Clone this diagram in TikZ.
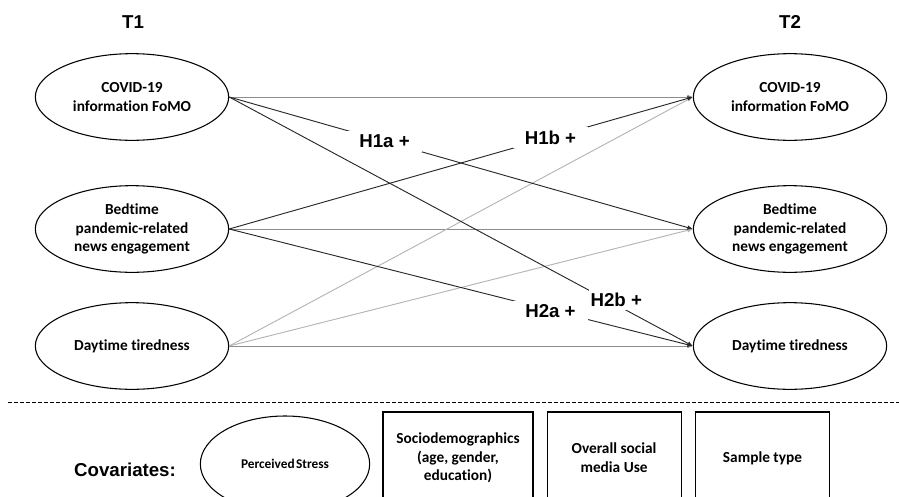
\documentclass[tikz,border=0pt]{standalone}
\usepackage{fontspec}
\setmainfont{Carlito}[Ligatures=NoCommon]
\newfontfamily\headfont{Liberation Sans}
\usepackage{tikz}
\usetikzlibrary{arrows.meta, positioning, shapes.geometric}
\definecolor{darkline}{RGB}{40,40,40}
\definecolor{midgray}{RGB}{140,140,140}
\definecolor{lightgray}{RGB}{180,180,180}
\newcommand{\head}[1]{{\headfont\bfseries #1}}

\begin{document}
\begin{tikzpicture}[x=0.75pt, y=-0.75pt, font=\fontsize{11.5}{14}\selectfont\bfseries,
  var/.style={draw, ellipse, line width=0.8pt, minimum width=145pt, minimum height=65pt, align=center},
  covbox/.style={draw, line width=0.8pt, minimum height=69pt, align=center},
  hyp/.style={fill=white, text=black, inner xsep=9pt, inner ysep=3pt, font=\fontsize{14}{16}\selectfont},
  link/.style={-{Latex[length=4pt, width=3.5pt]}, line width=0.7pt}]
\useasboundingbox (0,0) rectangle (899,496);

% time points
\node (t1) at (133,22) {\fontsize{14}{16}\selectfont\head{T1}};
\node (t2) at (790,22) {\fontsize{14}{16}\selectfont\head{T2}};

% T1 variables
\node[var] (fomoA) at (132,97) {COVID-19\\information FoMO};
\node[var] (newsA) at (132,229) {Bedtime\\pandemic-related\\news engagement};
\node[var] (tiredA) at (132,346) {Daytime tiredness};

% T2 variables
\node[var] (fomoB) at (790,97) {COVID-19\\information FoMO};
\node[var] (newsB) at (790,229) {Bedtime\\pandemic-related\\news engagement};
\node[var] (tiredB) at (790,346) {Daytime tiredness};

% stability and control paths
\draw[link, midgray] (fomoA.east) -- (fomoB.west);
\draw[link, midgray] (newsA.east) -- (newsB.west);
\draw[link, midgray] (tiredA.east) -- (tiredB.west);
\draw[link, lightgray] (tiredA.east) -- (fomoB.west);
\draw[link, lightgray] (tiredA.east) -- (newsB.west);

% hypotheses
\draw[link, darkline] (fomoA.east) -- node[hyp, pos=0.335] {\head{H1a +}} (newsB.west);
\draw[link, darkline] (newsA.east) -- node[hyp, pos=0.693] {\head{H1b +}} (fomoB.west);
\draw[link, darkline] (newsA.east) -- node[hyp, pos=0.693, yshift=-1pt] {\head{H2a +}} (tiredB.west);
\draw[link, darkline] (fomoA.east) -- node[hyp, pos=0.835, inner xsep=1pt, yshift=4pt] {\head{H2b +}} (tiredB.west);

% covariates
\draw[dash pattern=on 3pt off 1.5pt, line width=0.6pt] (8,402) -- (899,402);
\node (covlabel) at (125,470) {\fontsize{14}{16}\selectfont\head{Covariates:}};
\node[var, minimum width=127pt, minimum height=72pt, font=\fontsize{10}{12}\selectfont\bfseries] (stress) at (285,464) {Perceived\hspace{0.1em}Stress};
\node[covbox, minimum width=112.5pt] (socio) at (458,458) {Sociodemographics\\(age, gender,\\education)};
\node[covbox, minimum width=100.5pt, right=9.75pt of socio] (media) {Overall social\\media Use};
\node[covbox, minimum width=101pt, right=9.75pt of media] (sample) {Sample type};
\end{tikzpicture}
\end{document}
